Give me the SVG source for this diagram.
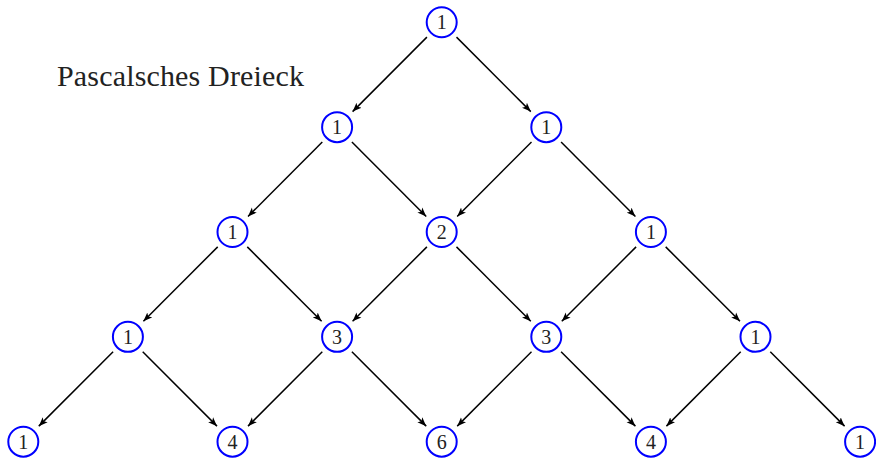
<svg xmlns="http://www.w3.org/2000/svg" width="876" height="458" viewBox="0 0 876 458">
<style>
.n circle{fill:#fff;stroke:#0000ff;stroke-width:2}
.n text{font-family:"Liberation Serif","DejaVu Serif",serif;font-size:20px;text-anchor:middle;fill:#222}
.e line{stroke:#000;stroke-width:1.5;marker-end:url(#ah)}
.title{font-family:"Liberation Serif","DejaVu Serif",serif;font-size:30px;fill:#222}
</style>
<defs>
<marker id="ah" markerUnits="userSpaceOnUse" markerWidth="10" markerHeight="8" viewBox="0 0 10 8" refX="9" refY="4" orient="auto">
<path d="M0,0.5 L9,4 L0,7.5 L2.2,4 z" fill="#000"/>
</marker>
</defs>
<rect width="876" height="458" fill="#fff"/>
<text class="title" x="57" y="86" textLength="247">Pascalsches Dreieck</text>
<g id="edges" class="e">
<line x1="426.9" y1="37.15" x2="352.6" y2="111.6"/>
<line x1="456.5" y1="37.15" x2="530.8" y2="111.6"/>
<line x1="322.3" y1="142" x2="248.0" y2="216.45"/>
<line x1="351.9" y1="142" x2="426.2" y2="216.45"/>
<line x1="531.5" y1="142" x2="457.2" y2="216.45"/>
<line x1="561.1" y1="142" x2="635.4" y2="216.45"/>
<line x1="217.7" y1="246.85" x2="143.4" y2="321.3"/>
<line x1="247.3" y1="246.85" x2="321.6" y2="321.3"/>
<line x1="426.9" y1="246.85" x2="352.6" y2="321.3"/>
<line x1="456.5" y1="246.85" x2="530.8" y2="321.3"/>
<line x1="636.1" y1="246.85" x2="561.8" y2="321.3"/>
<line x1="665.7" y1="246.85" x2="740.0" y2="321.3"/>
<line x1="113.1" y1="351.7" x2="38.8" y2="426.15"/>
<line x1="142.7" y1="351.7" x2="217.0" y2="426.15"/>
<line x1="322.3" y1="351.7" x2="248.0" y2="426.15"/>
<line x1="351.9" y1="351.7" x2="426.2" y2="426.15"/>
<line x1="531.5" y1="351.7" x2="457.2" y2="426.15"/>
<line x1="561.1" y1="351.7" x2="635.4" y2="426.15"/>
<line x1="740.7" y1="351.7" x2="666.4" y2="426.15"/>
<line x1="770.3" y1="351.7" x2="844.6" y2="426.15"/>
</g>
<g id="n0_4" class="n"><circle cx="441.7" cy="22.3" r="15"/><text x="441.7" y="29.3">1</text></g>
<g id="n1_3" class="n"><circle cx="337.1" cy="127.15" r="15"/><text x="337.1" y="134.15">1</text></g>
<g id="n1_5" class="n"><circle cx="546.3" cy="127.15" r="15"/><text x="546.3" y="134.15">1</text></g>
<g id="n2_2" class="n"><circle cx="232.5" cy="232" r="15"/><text x="232.5" y="239">1</text></g>
<g id="n2_4" class="n"><circle cx="441.7" cy="232" r="15"/><text x="441.7" y="239">2</text></g>
<g id="n2_6" class="n"><circle cx="650.9" cy="232" r="15"/><text x="650.9" y="239">1</text></g>
<g id="n3_1" class="n"><circle cx="127.9" cy="336.85" r="15"/><text x="127.9" y="343.85">1</text></g>
<g id="n3_3" class="n"><circle cx="337.1" cy="336.85" r="15"/><text x="337.1" y="343.85">3</text></g>
<g id="n3_5" class="n"><circle cx="546.3" cy="336.85" r="15"/><text x="546.3" y="343.85">3</text></g>
<g id="n3_7" class="n"><circle cx="755.5" cy="336.85" r="15"/><text x="755.5" y="343.85">1</text></g>
<g id="n4_0" class="n"><circle cx="23.3" cy="441.7" r="15"/><text x="23.3" y="448.7">1</text></g>
<g id="n4_2" class="n"><circle cx="232.5" cy="441.7" r="15"/><text x="232.5" y="448.7">4</text></g>
<g id="n4_4" class="n"><circle cx="441.7" cy="441.7" r="15"/><text x="441.7" y="448.7">6</text></g>
<g id="n4_6" class="n"><circle cx="650.9" cy="441.7" r="15"/><text x="650.9" y="448.7">4</text></g>
<g id="n4_8" class="n"><circle cx="860.1" cy="441.7" r="15"/><text x="860.1" y="448.7">1</text></g>
</svg>
